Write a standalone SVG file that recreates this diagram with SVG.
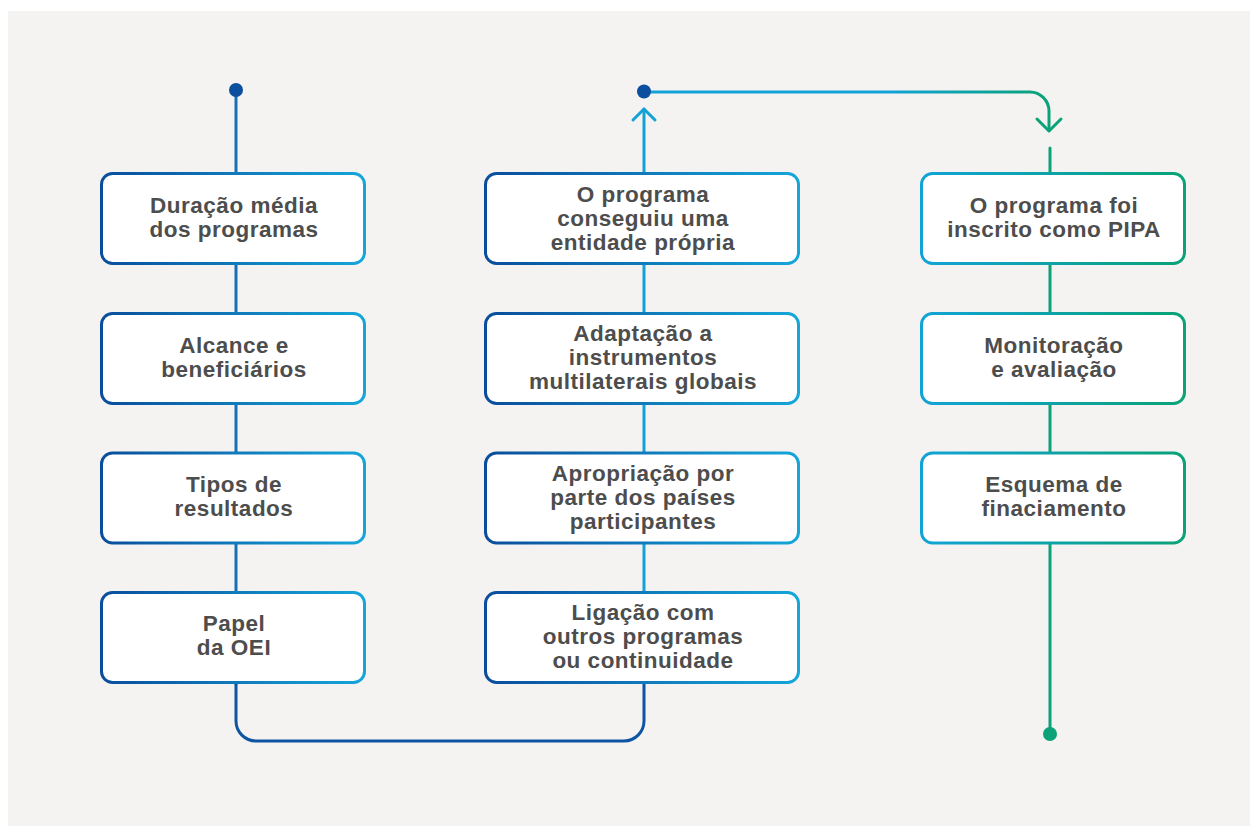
<svg xmlns="http://www.w3.org/2000/svg" width="1250" height="826" viewBox="0 0 1250 826">
<defs>
<linearGradient id="gBlue" x1="0" y1="0" x2="1" y2="0">
<stop offset="0" stop-color="#0a4d9c"/>
<stop offset="1" stop-color="#15a6d9"/>
</linearGradient>
<linearGradient id="gGreen" x1="0" y1="0" x2="1" y2="0">
<stop offset="0" stop-color="#12a3d6"/>
<stop offset="1" stop-color="#0aa276"/>
</linearGradient>
<linearGradient id="gTop" gradientUnits="userSpaceOnUse" x1="644" y1="0" x2="1050" y2="0">
<stop offset="0" stop-color="#12a2d6"/>
<stop offset="0.6" stop-color="#12a2d6"/>
<stop offset="1" stop-color="#0aa276"/>
</linearGradient>
<style>
.box{fill:#ffffff;stroke-width:3}
.b{stroke:url(#gBlue)}
.g{stroke:url(#gGreen)}
.t{font-family:"Liberation Sans",Arial,sans-serif;font-weight:bold;font-size:22.5px;letter-spacing:0.5px;fill:#4d4d4d;text-anchor:middle}
.ln{fill:none;stroke-width:3;stroke-linecap:round;stroke-linejoin:round}
</style>
</defs>
<rect x="0" y="0" width="1250" height="826" fill="#ffffff"/>
<rect x="8" y="11" width="1242" height="815" fill="#f4f3f2"/>

<g id="connectors">
<line class="ln" x1="236" y1="90" x2="236" y2="684" stroke="#1570b5"/>
<path class="ln" d="M236 684 V721 A20 20 0 0 0 256 741 H624 A20 20 0 0 0 644 721 V684" stroke="#0d55a3"/>
<line class="ln" x1="644" y1="109" x2="644" y2="592" stroke="#14a2d6"/>
<path class="ln" d="M633 120 L644 109 L655 120" stroke="#14a2d6"/>
<path class="ln" d="M644 92 H1030 A19 19 0 0 1 1049 111 V130" stroke="url(#gTop)"/>
<path class="ln" d="M1037 119 L1049 131 L1061 119" stroke="#0aa276"/>
<line class="ln" x1="1050" y1="148" x2="1050" y2="734" stroke="#0aa276"/>
<circle cx="236" cy="90" r="7" fill="#0b4f9e"/>
<circle cx="644" cy="91.5" r="7" fill="#0b4f9e"/>
<circle cx="1050" cy="734" r="7" fill="#0aa276"/>
</g>

<g id="n1"><rect class="box b" x="101.5" y="173.5" width="263" height="90" rx="11"/>
<text class="t" x="234" y="213">Duração média</text><text class="t" x="234" y="237">dos programas</text></g>
<g id="n2"><rect class="box b" x="101.5" y="313.5" width="263" height="90" rx="11"/>
<text class="t" x="234" y="353">Alcance e</text><text class="t" x="234" y="377">beneficiários</text></g>
<g id="n3"><rect class="box b" x="101.5" y="453" width="263" height="90" rx="11"/>
<text class="t" x="234" y="492">Tipos de</text><text class="t" x="234" y="516">resultados</text></g>
<g id="n4"><rect class="box b" x="101.5" y="592.5" width="263" height="90" rx="11"/>
<text class="t" x="234" y="631">Papel</text><text class="t" x="234" y="655">da OEI</text></g>

<g id="n5"><rect class="box b" x="485.5" y="173.5" width="313" height="90" rx="11"/>
<text class="t" x="643" y="202">O programa</text><text class="t" x="643" y="226">conseguiu uma</text><text class="t" x="643" y="250">entidade própria</text></g>
<g id="n6"><rect class="box b" x="485.5" y="313.5" width="313" height="90" rx="11"/>
<text class="t" x="643" y="341">Adaptação a</text><text class="t" x="643" y="365">instrumentos</text><text class="t" x="643" y="389">multilaterais globais</text></g>
<g id="n7"><rect class="box b" x="485.5" y="453" width="313" height="90" rx="11"/>
<text class="t" x="643" y="481">Apropriação por</text><text class="t" x="643" y="505">parte dos países</text><text class="t" x="643" y="529">participantes</text></g>
<g id="n8"><rect class="box b" x="485.5" y="592.5" width="313" height="90" rx="11"/>
<text class="t" x="643" y="620">Ligação com</text><text class="t" x="643" y="644">outros programas</text><text class="t" x="643" y="668">ou continuidade</text></g>

<g id="n9"><rect class="box g" x="921.5" y="173.5" width="263" height="90" rx="11"/>
<text class="t" x="1054" y="213">O programa foi</text><text class="t" x="1054" y="237">inscrito como PIPA</text></g>
<g id="n10"><rect class="box g" x="921.5" y="313.5" width="263" height="90" rx="11"/>
<text class="t" x="1054" y="353">Monitoração</text><text class="t" x="1054" y="377">e avaliação</text></g>
<g id="n11"><rect class="box g" x="921.5" y="453" width="263" height="90" rx="11"/>
<text class="t" x="1054" y="492">Esquema de</text><text class="t" x="1054" y="516">finaciamento</text></g>
</svg>
